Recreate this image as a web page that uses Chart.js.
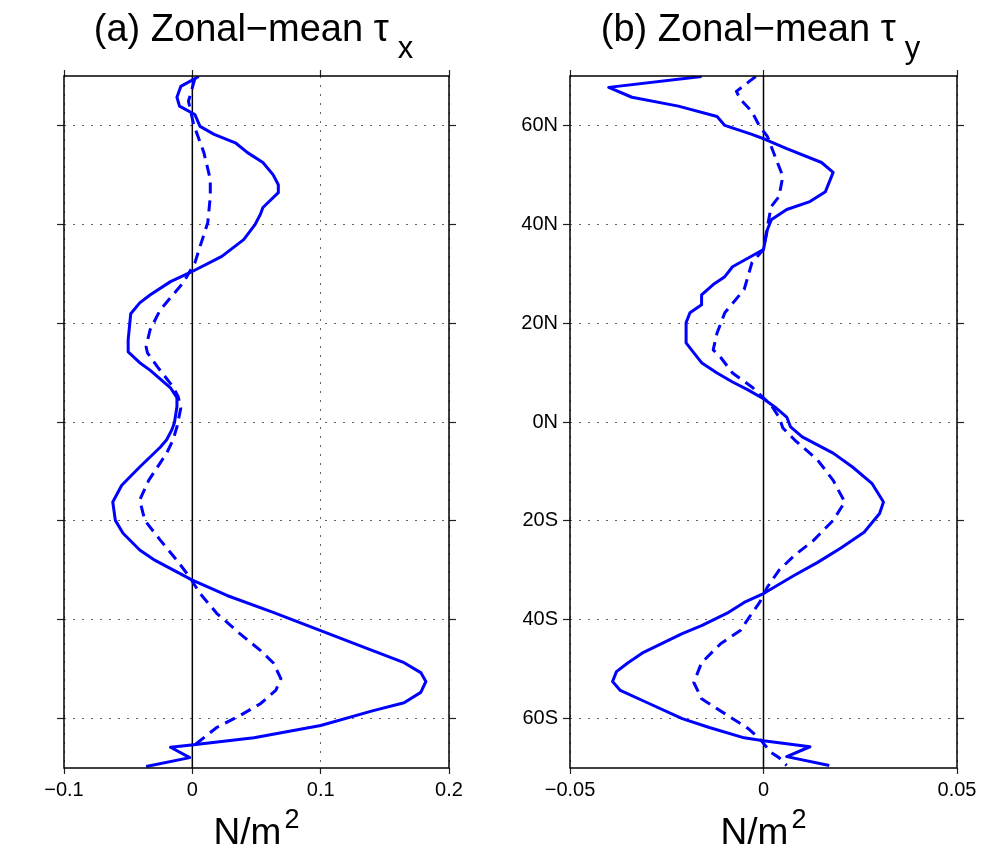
<!DOCTYPE html>
<html><head><meta charset="utf-8">
<script src="https://cdn.jsdelivr.net/npm/chart.js@4.4.1/dist/chart.umd.min.js"></script>
<style>
html,body{margin:0;padding:0;background:#fff;width:986px;height:851px;overflow:hidden}
canvas{position:absolute;top:0}
#c1{left:0}
#c2{left:493px}
</style></head><body>
<canvas id="c1" width="493" height="851"></canvas>
<canvas id="c2" width="493" height="851"></canvas>
<script>
// ---- tick values ----
const latTicks = [-60, -40, -20, 0, 20, 40, 60];
const txTicks = [-0.1, 0, 0.1, 0.2];
const tyTicks = [-0.05, 0, 0.05];

// ---- (a) zonal-mean tau_x : solid ----
const txSolidLat = [69.9, 67.9, 65.7, 63.9, 62.2, 59.8, 58.2, 56.4, 54.5, 52.5, 50, 48, 46.4, 43.4, 42, 40, 36.9, 33.5, 30.2, 28.4, 25.7, 24.1, 21.9, 16.6, 14.2, 12, 10.5, 6.9, 4.9, 3.1, -0.2, -1.6, -3.6, -5.1, -9.1, -12.8, -16.2, -19.9, -22.5, -25.9, -28, -32, -35.1, -38.5, -42.2, -45.8, -48.7, -50.7, -52.5, -54.7, -56.8, -58.4, -61.4, -63.9, -65.3, -65.8, -67.9, -69.7];
const txSolidVal = [0.005, -0.009, -0.012, -0.010, 0.002, 0.006, 0.017, 0.034, 0.043, 0.055, 0.063, 0.067, 0.067, 0.055, 0.053, 0.049, 0.040, 0.023, -0.002, -0.017, -0.033, -0.041, -0.048, -0.050, -0.050, -0.041, -0.033, -0.017, -0.012, -0.012, -0.014, -0.016, -0.020, -0.025, -0.041, -0.055, -0.062, -0.060, -0.054, -0.041, -0.029, 0, 0.027, 0.063, 0.100, 0.136, 0.165, 0.178, 0.182, 0.178, 0.165, 0.141, 0.100, 0.048, 0.001, -0.017, -0.002, -0.036];
// ---- (a) dashed ----
const txDashLat = [69.5, 64.9, 60.2, 54.5, 49.1, 45.6, 40.3, 35.5, 32.2, 28.2, 22.7, 18.6, 15.2, 14.0, 11.1, 7.1, 5.1, 2.8, -1.0, -3.6, -6.3, -11.8, -15.8, -19.9, -23.9, -28, -31.4, -34.7, -38.7, -42.8, -46.2, -48.7, -51.9, -54.3, -57.0, -59.4, -61.8, -64.9, -65.5];
const txDashVal = [0.002, -0.003, 0.001, 0.009, 0.014, 0.014, 0.012, 0.006, 0.002, -0.007, -0.025, -0.033, -0.036, -0.035, -0.027, -0.015, -0.011, -0.009, -0.012, -0.015, -0.020, -0.034, -0.041, -0.037, -0.025, -0.012, -0.002, 0.006, 0.019, 0.037, 0.053, 0.063, 0.069, 0.065, 0.053, 0.037, 0.019, 0.004, 0];

// ---- (b) zonal-mean tau_y : solid ----
const tySolidLat = [69.9, 67.7, 65.7, 63.9, 61.8, 60, 58.2, 57.2, 55.3, 52.5, 50.5, 46.6, 44.6, 43.0, 40.9, 38.9, 36.9, 34.9, 31.4, 29.4, 27.8, 25.7, 23.7, 22.1, 20.1, 16.0, 14.0, 12.0, 9.9, 8.1, 6.5, 4.7, 3.0, 1.0, -1.0, -3.0, -6.3, -9.1, -12.4, -16.2, -18.5, -22.3, -25.5, -28.4, -31.0, -34.7, -36.5, -38.5, -41.2, -42.8, -46.6, -48.7, -50.5, -52.5, -54.3, -56.8, -60, -61.8, -63.9, -64.5, -65.7, -67.7, -69.5];
const tySolidVal = [-0.016, -0.040, -0.034, -0.022, -0.012, -0.010, -0.003, 0.0004, 0.006, 0.015, 0.018, 0.016, 0.012, 0.006, 0.002, 0.001, 0.0005, 0, -0.008, -0.010, -0.013, -0.016, -0.016, -0.019, -0.020, -0.020, -0.018, -0.016, -0.012, -0.008, -0.004, 0, 0.003, 0.006, 0.007, 0.010, 0.018, 0.023, 0.028, 0.031, 0.030, 0.026, 0.020, 0.014, 0.008, 0, -0.005, -0.009, -0.016, -0.021, -0.031, -0.035, -0.038, -0.039, -0.037, -0.030, -0.021, -0.014, -0.005, 0, 0.012, 0.006, 0.017];
// ---- (b) dashed ----
const tyDashLat = [69.9, 68.7, 66.9, 65.3, 62.8, 59.8, 57.8, 53.7, 49.7, 45.6, 43.6, 39.5, 34.9, 32.2, 26.8, 22.1, 18.0, 14.6, 13.0, 9.9, 7.1, 3.4, 1.0, -1.2, -3.6, -7.7, -11.8, -16.2, -19.9, -23.9, -27, -30, -33.4, -36.5, -38.7, -42.2, -44.8, -48.7, -52.7, -56, -59, -62, -64.1, -66.9, -67.9, -69.5];
const tyDashVal = [-0.002, -0.004, -0.007, -0.006, -0.003, -0.001, 0.001, 0.003, 0.005, 0.004, 0.002, 0.001, 0, -0.003, -0.005, -0.010, -0.012, -0.013, -0.011, -0.008, -0.003, 0.002, 0.004, 0.005, 0.008, 0.014, 0.018, 0.021, 0.018, 0.013, 0.008, 0.004, 0.001, -0.001, -0.003, -0.006, -0.011, -0.016, -0.018, -0.016, -0.010, -0.004, -0.001, 0.002, 0.004, 0.006];

const FONT = "'Liberation Sans', Arial, Helvetica, sans-serif";
const BLUE = '#0000ff';
const pts = (lat, val) => lat.map((y, i) => ({x: val[i], y: y}));
const fmtX = v => v === 0 ? '0' : (v < 0 ? '\u2212' : '') + Math.abs(v);
const fmtLat = v => v >= 0 ? v + 'N' : (-v) + 'S';

const framePlugin = {
  id: 'frame',
  beforeDatasetsDraw(chart) {
    const {ctx, chartArea: a, scales} = chart;
    const x0 = scales.x.getPixelForValue(0);
    ctx.save();
    ctx.strokeStyle = '#000'; ctx.lineWidth = 1.5;
    ctx.beginPath(); ctx.moveTo(x0, a.top); ctx.lineTo(x0, a.bottom); ctx.stroke();
    ctx.restore();
  },
  afterDatasetsDraw(chart) {
    const {ctx, chartArea: a} = chart;
    ctx.save();
    ctx.strokeStyle = '#000'; ctx.lineWidth = 1.5;
    ctx.strokeRect(a.left, a.top, a.right - a.left, a.bottom - a.top);
    ctx.restore();
  },
  afterDraw(chart) {
    const o = chart.options.plugins.frame;
    const {ctx, chartArea: a} = chart;
    const cx = (a.left + a.right) / 2;
    ctx.save();
    ctx.fillStyle = '#000';
    ctx.textBaseline = 'alphabetic';
    ctx.textAlign = 'left';
    // title
    const tf = '38px ' + FONT, sf = '31px ' + FONT;
    ctx.font = tf;
    const w1 = ctx.measureText(o.title).width;
    ctx.font = sf;
    const w2 = ctx.measureText(o.sub).width;
    const gap = 9;
    let sx = cx - (w1 + gap + w2) / 2 - 3;
    ctx.font = tf;
    ctx.fillText(o.title, sx, 41);
    ctx.font = sf;
    ctx.fillText(o.sub, sx + w1 + gap, 58);
    // unit
    ctx.font = '37px ' + FONT;
    const u1 = ctx.measureText('N/m').width;
    ctx.font = '27px ' + FONT;
    const u2 = ctx.measureText('2').width;
    sx = cx - (u1 + 3 + u2) / 2;
    ctx.font = '37px ' + FONT;
    ctx.fillText('N/m', sx, 844);
    ctx.font = '27px ' + FONT;
    ctx.fillText('2', sx + u1 + 3, 828);
    ctx.restore();
  }
};

function makePanel(id, cfg) {
  const gridDots = {color: '#666', lineWidth: 1, tickColor: '#222', tickWidth: 1.2};
  const noBorder = {display: false, dash: [2, 7]};
  new Chart(document.getElementById(id), {
    type: 'scatter',
    data: {
      datasets: [
        {data: pts(cfg.dashLat, cfg.dashVal), showLine: true, borderColor: BLUE, borderWidth: 3,
         borderDash: [11, 7], pointRadius: 0, tension: 0, borderJoinStyle: 'round', fill: false},
        {data: pts(cfg.solidLat, cfg.solidVal), showLine: true, borderColor: BLUE, borderWidth: 3,
         pointRadius: 0, tension: 0, borderJoinStyle: 'round', fill: false}
      ]
    },
    options: {
      responsive: false, animation: false, devicePixelRatio: 1,
      layout: {padding: 0},
      plugins: {legend: {display: false}, tooltip: {enabled: false},
        frame: {title: cfg.title, sub: cfg.sub}},
      scales: {
        x: {type: 'linear', position: 'bottom', min: cfg.xMin, max: cfg.xMax,
            afterBuildTicks: s => { s.ticks = cfg.xTicks.map(v => ({value: v})); },
            afterFit: s => { s.height = 83; },
            grid: Object.assign({drawOnChartArea: true, drawTicks: true, tickLength: 6}, gridDots),
            border: noBorder,
            ticks: {display: true, callback: v => fmtX(v), padding: 4, color: '#000',
                    maxRotation: 0, autoSkip: false, font: {family: FONT, size: 20}}},
        x2: {type: 'linear', axis: 'x', position: 'top', min: cfg.xMin, max: cfg.xMax,
            afterBuildTicks: s => { s.ticks = cfg.xTicks.map(v => ({value: v})); },
            afterFit: s => { s.height = 76; },
            grid: Object.assign({drawOnChartArea: false, drawTicks: true, tickLength: 6}, gridDots),
            border: {display: false},
            ticks: {display: false}},
        y: {type: 'linear', position: 'left', min: -70, max: 70,
            afterBuildTicks: s => { s.ticks = latTicks.map(v => ({value: v})); },
            afterFit: s => { s.width = cfg.leftW; },
            grid: Object.assign({drawOnChartArea: true, drawTicks: true, tickLength: 7}, gridDots),
            border: noBorder,
            ticks: {display: cfg.showLabels, callback: v => fmtLat(v), padding: 5, color: '#000',
                    autoSkip: false, font: {family: FONT, size: 20}}},
        y2: {type: 'linear', axis: 'y', position: 'right', min: -70, max: 70,
            afterBuildTicks: s => { s.ticks = latTicks.map(v => ({value: v})); },
            afterFit: s => { s.width = cfg.rightW; },
            grid: Object.assign({drawOnChartArea: false, drawTicks: true, tickLength: 7}, gridDots),
            border: {display: false},
            ticks: {display: false}}
      }
    },
    plugins: [framePlugin]
  });
}

makePanel('c1', {
  solidLat: txSolidLat, solidVal: txSolidVal, dashLat: txDashLat, dashVal: txDashVal,
  xMin: -0.1, xMax: 0.2, xTicks: txTicks, leftW: 64, rightW: 44, showLabels: false,
  title: '(a) Zonal\u2212mean \u03c4', sub: 'x'
});
makePanel('c2', {
  solidLat: tySolidLat, solidVal: tySolidVal, dashLat: tyDashLat, dashVal: tyDashVal,
  xMin: -0.05, xMax: 0.05, xTicks: tyTicks, leftW: 77, rightW: 29, showLabels: true,
  title: '(b) Zonal\u2212mean \u03c4', sub: 'y'
});
</script>
</body></html>
